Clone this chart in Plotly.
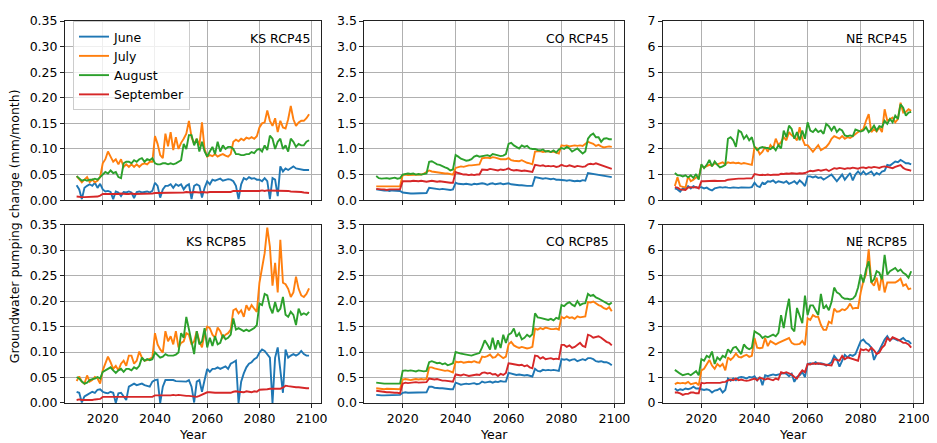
import plotly.graph_objects as go

years = list(range(2010, 2100))
months = ["June", "July", "August", "September"]
colors = ["#1f77b4", "#ff7f0e", "#2ca02c", "#d62728"]
x_ticks = [2020, 2040, 2060, 2080, 2100]

# ---------------- KS RCP45 ----------------
ks45_june = [0.029, 0.021, 0.002, 0.024, 0.028, 0.031, 0.028, 0.034, 0.024, 0.032,
             0.021, 0.017, 0.018, 0.016, 0.002, 0.017, 0.015, 0.008, 0.016, 0.015,
             0.017, 0.015, 0.004, 0.016, 0.017, 0.015, 0.016, 0.017, 0.015, 0.018,
             0.034, 0.028, 0.005, 0.021, 0.028, 0.028, 0.031, 0.024, 0.031, 0.028,
             0.031, 0.021, 0.028, 0.031, 0.002, 0.028, 0.031, 0.028, 0.005, 0.024,
             0.037, 0.031, 0.040, 0.038, 0.040, 0.042, 0.038, 0.040, 0.041, 0.040,
             0.037, 0.028, 0.002, 0.031, 0.043, 0.040, 0.045, 0.042, 0.043, 0.040,
             0.040, 0.037, 0.043, 0.037, 0.002, 0.043, 0.040, 0.008, 0.066, 0.056,
             0.062, 0.059, 0.062, 0.066, 0.062, 0.061, 0.059, 0.059, 0.059, 0.059]
ks45_july = [0.047, 0.040, 0.035, 0.040, 0.045, 0.035, 0.040, 0.035, 0.038, 0.045,
             0.072, 0.080, 0.095, 0.085, 0.075, 0.080, 0.070, 0.080, 0.065, 0.070,
             0.065, 0.070, 0.065, 0.070, 0.065, 0.070, 0.072, 0.070, 0.075, 0.075,
             0.125, 0.110, 0.088, 0.082, 0.130, 0.105, 0.133, 0.098, 0.123, 0.100,
             0.112, 0.120, 0.130, 0.155, 0.123, 0.110, 0.120, 0.107, 0.152, 0.100,
             0.085, 0.088, 0.086, 0.090, 0.085, 0.088, 0.090, 0.087, 0.085, 0.090,
             0.114, 0.118, 0.115, 0.120, 0.117, 0.122, 0.120, 0.123, 0.120, 0.125,
             0.142, 0.150, 0.152, 0.175, 0.155, 0.145, 0.160, 0.133, 0.155, 0.142,
             0.140, 0.158, 0.184, 0.158, 0.145, 0.152, 0.155, 0.155, 0.160, 0.168]
ks45_aug = [0.047, 0.042, 0.038, 0.040, 0.038, 0.040, 0.040, 0.042, 0.040, 0.045,
            0.050, 0.055, 0.052, 0.058, 0.053, 0.055, 0.045, 0.043, 0.072, 0.075,
            0.075, 0.072, 0.078, 0.075, 0.080, 0.082, 0.075, 0.080, 0.078, 0.082,
            0.072, 0.070, 0.070, 0.072, 0.072, 0.070, 0.072, 0.070, 0.072, 0.075,
            0.078, 0.110, 0.100, 0.127, 0.127, 0.107, 0.120, 0.095, 0.114, 0.095,
            0.085, 0.095, 0.104, 0.090, 0.114, 0.095, 0.107, 0.100, 0.104, 0.104,
            0.100, 0.090, 0.090, 0.088, 0.088, 0.090, 0.090, 0.094, 0.092, 0.098,
            0.100, 0.095, 0.107, 0.098, 0.126, 0.120, 0.100, 0.114, 0.120, 0.100,
            0.107, 0.095, 0.120, 0.114, 0.104, 0.110, 0.107, 0.107, 0.114, 0.117]
ks45_sep = [0.007, 0.006, 0.006, 0.006, 0.006, 0.006, 0.007, 0.007, 0.007, 0.009,
            0.012, 0.012, 0.012, 0.012, 0.011, 0.012, 0.012, 0.013, 0.012, 0.012,
            0.012, 0.013, 0.012, 0.012, 0.013, 0.013, 0.012, 0.013, 0.013, 0.013,
            0.014, 0.014, 0.014, 0.015, 0.014, 0.014, 0.015, 0.015, 0.014, 0.015,
            0.015, 0.015, 0.016, 0.015, 0.015, 0.016, 0.015, 0.015, 0.016, 0.015,
            0.015, 0.016, 0.016, 0.016, 0.015, 0.016, 0.016, 0.016, 0.015, 0.016,
            0.018, 0.018, 0.018, 0.017, 0.018, 0.018, 0.018, 0.017, 0.018, 0.018,
            0.018, 0.019, 0.018, 0.019, 0.019, 0.018, 0.019, 0.019, 0.018, 0.018,
            0.018, 0.018, 0.017, 0.017, 0.017, 0.016, 0.016, 0.015, 0.015, 0.014]

# ---------------- KS RCP85 ----------------
ks85_june = [0.022, 0.020, 0.001, 0.013, 0.016, 0.019, 0.022, 0.020, 0.026, 0.027,
             0.022, 0.020, 0.019, 0.022, 0.020, 0.000, 0.019, 0.020, 0.013, 0.006,
             0.032, 0.035, 0.038, 0.035, 0.037, 0.038, 0.035, 0.033, 0.032, 0.042,
             0.045, 0.046, 0.000, 0.032, 0.045, 0.045, 0.045, 0.045, 0.043, 0.043,
             0.043, 0.043, 0.042, 0.045, 0.032, 0.001, 0.042, 0.045, 0.022, 0.045,
             0.067, 0.061, 0.067, 0.067, 0.070, 0.067, 0.070, 0.072, 0.067, 0.077,
             0.080, 0.083, 0.000, 0.042, 0.058, 0.070, 0.077, 0.080, 0.086, 0.089,
             0.099, 0.105, 0.102, 0.096, 0.089, 0.000, 0.089, 0.109, 0.058, 0.020,
             0.105, 0.089, 0.093, 0.096, 0.093, 0.096, 0.102, 0.096, 0.093, 0.093]
ks85_july = [0.043, 0.052, 0.042, 0.038, 0.054, 0.042, 0.045, 0.051, 0.048, 0.038,
             0.064, 0.077, 0.091, 0.080, 0.067, 0.073, 0.064, 0.077, 0.083, 0.073,
             0.093, 0.093, 0.077, 0.083, 0.101, 0.089, 0.083, 0.084, 0.086, 0.089,
             0.137, 0.115, 0.105, 0.099, 0.141, 0.121, 0.131, 0.115, 0.141, 0.109,
             0.118, 0.121, 0.137, 0.134, 0.115, 0.121, 0.141, 0.121, 0.109, 0.137,
             0.150, 0.147, 0.134, 0.128, 0.148, 0.141, 0.128, 0.134, 0.137, 0.144,
             0.182, 0.185, 0.176, 0.182, 0.169, 0.192, 0.182, 0.192, 0.185, 0.179,
             0.236, 0.262, 0.294, 0.344, 0.307, 0.230, 0.275, 0.217, 0.320, 0.236,
             0.233, 0.224, 0.208, 0.217, 0.248, 0.224, 0.211, 0.208, 0.214, 0.225]
ks85_aug = [0.051, 0.048, 0.042, 0.038, 0.040, 0.045, 0.047, 0.048, 0.051, 0.048,
            0.061, 0.064, 0.067, 0.070, 0.064, 0.059, 0.064, 0.067, 0.061, 0.067,
            0.067, 0.064, 0.070, 0.067, 0.073, 0.089, 0.083, 0.086, 0.084, 0.086,
            0.099, 0.093, 0.089, 0.091, 0.096, 0.093, 0.093, 0.093, 0.095, 0.099,
            0.137, 0.128, 0.169, 0.144, 0.115, 0.096, 0.141, 0.115, 0.121, 0.147,
            0.109, 0.128, 0.112, 0.131, 0.115, 0.118, 0.134, 0.125, 0.128, 0.134,
            0.166, 0.144, 0.147, 0.144, 0.141, 0.144, 0.141, 0.144, 0.147, 0.153,
            0.195, 0.192, 0.214, 0.211, 0.188, 0.176, 0.198, 0.179, 0.185, 0.208,
            0.173, 0.169, 0.179, 0.173, 0.153, 0.185, 0.173, 0.176, 0.173, 0.179]
ks85_sep = [0.006, 0.007, 0.006, 0.006, 0.005, 0.006, 0.006, 0.007, 0.007, 0.008,
            0.012, 0.012, 0.012, 0.011, 0.012, 0.012, 0.011, 0.012, 0.012, 0.012,
            0.012, 0.012, 0.011, 0.012, 0.012, 0.011, 0.012, 0.012, 0.012, 0.012,
            0.015, 0.015, 0.015, 0.014, 0.015, 0.015, 0.015, 0.016, 0.015, 0.016,
            0.015, 0.014, 0.014, 0.014, 0.013, 0.013, 0.012, 0.014, 0.016, 0.019,
            0.021, 0.021, 0.020, 0.020, 0.020, 0.020, 0.020, 0.020, 0.021, 0.020,
            0.022, 0.023, 0.022, 0.022, 0.021, 0.023, 0.022, 0.021, 0.023, 0.022,
            0.026, 0.026, 0.027, 0.027, 0.028, 0.028, 0.029, 0.029, 0.028, 0.030,
            0.034, 0.033, 0.032, 0.032, 0.031, 0.031, 0.030, 0.030, 0.029, 0.029]

# ---------------- CO RCP45 ----------------
co45_june = [0.21, 0.20, 0.19, 0.19, 0.19, 0.18, 0.19, 0.19, 0.18, 0.18,
             0.15, 0.14, 0.13, 0.13, 0.13, 0.13, 0.13, 0.13, 0.14, 0.14,
             0.24, 0.23, 0.22, 0.22, 0.21, 0.22, 0.21, 0.21, 0.20, 0.21,
             0.34, 0.32, 0.31, 0.31, 0.32, 0.31, 0.30, 0.32, 0.31, 0.32,
             0.33, 0.32, 0.30, 0.32, 0.33, 0.31, 0.32, 0.33, 0.31, 0.32,
             0.33, 0.31, 0.30, 0.30, 0.29, 0.29, 0.28, 0.28, 0.28, 0.28,
             0.45, 0.44, 0.43, 0.42, 0.43, 0.42, 0.41, 0.42, 0.40, 0.40,
             0.40, 0.39, 0.38, 0.39, 0.38, 0.37, 0.38, 0.37, 0.39, 0.38,
             0.53, 0.52, 0.51, 0.50, 0.49, 0.48, 0.47, 0.47, 0.46, 0.45]
co45_july = [0.27, 0.27, 0.27, 0.28, 0.27, 0.27, 0.27, 0.28, 0.27, 0.27,
             0.49, 0.50, 0.49, 0.49, 0.50, 0.49, 0.49, 0.50, 0.52, 0.55,
             0.58, 0.56, 0.55, 0.54, 0.53, 0.53, 0.52, 0.52, 0.51, 0.50,
             0.63, 0.65, 0.66, 0.65, 0.67, 0.68, 0.68, 0.69, 0.70, 0.70,
             0.82, 0.83, 0.83, 0.82, 0.84, 0.83, 0.81, 0.80, 0.80, 0.80,
             0.82, 0.78, 0.77, 0.77, 0.76, 0.78, 0.75, 0.73, 0.72, 0.70,
             0.95, 0.95, 0.96, 0.94, 0.95, 0.96, 0.94, 0.95, 0.93, 0.91,
             1.07, 1.06, 1.07, 1.05, 1.06, 1.07, 1.06, 1.07, 1.06, 1.10,
             1.14, 1.12, 1.10, 1.06, 1.08, 1.05, 1.03, 1.04, 1.05, 1.04]
co45_aug = [0.47, 0.43, 0.42, 0.43, 0.43, 0.42, 0.43, 0.44, 0.42, 0.43,
            0.50, 0.51, 0.52, 0.51, 0.52, 0.50, 0.51, 0.50, 0.51, 0.52,
            0.75, 0.76, 0.73, 0.70, 0.69, 0.66, 0.64, 0.62, 0.58, 0.60,
            0.88, 0.85, 0.81, 0.79, 0.77, 0.78, 0.80, 0.85, 0.87, 0.85,
            0.86, 0.87, 0.88, 0.86, 0.90, 0.89, 0.88, 0.86, 0.87, 0.90,
            1.10, 1.12, 1.07, 1.04, 1.01, 1.07, 1.04, 1.06, 1.01, 1.00,
            1.00, 0.98, 0.97, 0.99, 0.95, 0.96, 0.94, 0.97, 0.93, 0.99,
            1.02, 1.00, 1.04, 1.01, 0.95, 0.98, 1.01, 0.96, 0.91, 0.95,
            1.20, 1.27, 1.30, 1.23, 1.23, 1.14, 1.20, 1.21, 1.19, 1.19]
co45_sep = [0.22, 0.21, 0.21, 0.21, 0.20, 0.21, 0.21, 0.20, 0.21, 0.21,
            0.37, 0.37, 0.36, 0.37, 0.38, 0.37, 0.37, 0.38, 0.37, 0.36,
            0.37, 0.38, 0.37, 0.36, 0.37, 0.36, 0.35, 0.35, 0.34, 0.34,
            0.55, 0.53, 0.51, 0.50, 0.50, 0.49, 0.50, 0.49, 0.50, 0.50,
            0.60, 0.60, 0.59, 0.61, 0.60, 0.59, 0.58, 0.60, 0.59, 0.60,
            0.62, 0.59, 0.58, 0.59, 0.58, 0.57, 0.58, 0.57, 0.56, 0.55,
            0.69, 0.68, 0.67, 0.68, 0.66, 0.67, 0.66, 0.67, 0.65, 0.66,
            0.69, 0.67, 0.66, 0.68, 0.66, 0.65, 0.67, 0.66, 0.65, 0.66,
            0.70, 0.71, 0.70, 0.72, 0.70, 0.68, 0.66, 0.64, 0.62, 0.61]

# ---------------- CO RCP85 ----------------
co85_june = [0.16, 0.15, 0.15, 0.15, 0.15, 0.15, 0.15, 0.15, 0.16, 0.16,
             0.20, 0.21, 0.20, 0.20, 0.21, 0.20, 0.20, 0.21, 0.21, 0.21,
             0.32, 0.32, 0.30, 0.29, 0.29, 0.29, 0.28, 0.28, 0.27, 0.27,
             0.40, 0.38, 0.36, 0.37, 0.38, 0.37, 0.38, 0.39, 0.37, 0.38,
             0.42, 0.40, 0.41, 0.42, 0.40, 0.42, 0.41, 0.43, 0.42, 0.42,
             0.59, 0.58, 0.56, 0.55, 0.56, 0.55, 0.54, 0.55, 0.53, 0.52,
             0.67, 0.63, 0.62, 0.65, 0.64, 0.65, 0.64, 0.65, 0.64, 0.63,
             0.86, 0.85, 0.86, 0.83, 0.85, 0.86, 0.82, 0.84, 0.86, 0.84,
             0.88, 0.88, 0.86, 0.82, 0.81, 0.82, 0.80, 0.80, 0.78, 0.74]
co85_july = [0.29, 0.28, 0.28, 0.27, 0.28, 0.28, 0.27, 0.27, 0.27, 0.27,
             0.46, 0.47, 0.46, 0.45, 0.46, 0.47, 0.46, 0.47, 0.46, 0.47,
             0.70, 0.70, 0.68, 0.67, 0.66, 0.65, 0.63, 0.64, 0.62, 0.60,
             0.81, 0.80, 0.81, 0.79, 0.80, 0.81, 0.80, 0.82, 0.80, 0.79,
             0.91, 0.90, 0.92, 0.95, 0.89, 0.90, 0.96, 0.92, 0.88, 0.91,
             1.15, 1.20, 1.13, 1.10, 1.08, 1.10, 1.08, 1.07, 1.08, 1.10,
             1.46, 1.44, 1.47, 1.45, 1.48, 1.46, 1.45, 1.45, 1.46, 1.44,
             1.69, 1.66, 1.70, 1.67, 1.68, 1.65, 1.70, 1.68, 1.69, 1.70,
             1.98, 1.97, 1.99, 1.95, 1.92, 1.90, 1.86, 1.84, 1.88, 1.80]
co85_aug = [0.40, 0.39, 0.39, 0.38, 0.38, 0.38, 0.38, 0.38, 0.37, 0.38,
            0.63, 0.64, 0.63, 0.64, 0.63, 0.62, 0.64, 0.63, 0.62, 0.63,
            0.80, 0.82, 0.80, 0.78, 0.79, 0.76, 0.78, 0.74, 0.76, 0.78,
            1.00, 0.98, 0.97, 0.96, 0.95, 0.94, 0.93, 0.95, 0.97, 0.98,
            1.09, 1.23, 1.15, 1.05, 1.28, 1.05, 1.23, 1.08, 1.34, 1.18,
            1.34, 1.37, 1.46, 1.30, 1.37, 1.25, 1.28, 1.34, 1.30, 1.35,
            1.76, 1.68, 1.67, 1.66, 1.64, 1.63, 1.65, 1.62, 1.67, 1.65,
            1.92, 1.90, 1.95, 1.98, 1.93, 1.90, 2.00, 1.92, 1.95, 1.96,
            2.14, 2.10, 2.12, 2.07, 2.05, 2.02, 1.98, 1.95, 1.93, 1.97]
co85_sep = [0.24, 0.23, 0.22, 0.22, 0.21, 0.21, 0.20, 0.20, 0.20, 0.19,
            0.38, 0.40, 0.39, 0.40, 0.40, 0.41, 0.40, 0.40, 0.41, 0.41,
            0.48, 0.47, 0.46, 0.47, 0.45, 0.44, 0.44, 0.43, 0.42, 0.42,
            0.56, 0.55, 0.54, 0.56, 0.55, 0.53, 0.54, 0.55, 0.56, 0.55,
            0.59, 0.60, 0.58, 0.59, 0.56, 0.57, 0.53, 0.57, 0.55, 0.59,
            0.78, 0.77, 0.76, 0.76, 0.74, 0.75, 0.72, 0.74, 0.70, 0.68,
            0.93, 0.92, 0.87, 0.90, 0.86, 0.87, 0.88, 0.86, 0.87, 0.86,
            1.14, 1.14, 1.10, 1.13, 1.08, 1.10, 1.14, 1.18, 1.12, 1.10,
            1.34, 1.32, 1.28, 1.30, 1.31, 1.28, 1.24, 1.20, 1.18, 1.13]

# ---------------- NE RCP45 ----------------
ne45_june = [0.46, 0.42, 0.33, 0.46, 0.42, 0.55, 0.46, 0.55, 0.49, 0.51,
             0.51, 0.46, 0.49, 0.42, 0.38, 0.46, 0.49, 0.51, 0.49, 0.51,
             0.49, 0.48, 0.50, 0.49, 0.48, 0.50, 0.49, 0.50, 0.49, 0.51,
             0.68, 0.55, 0.51, 0.68, 0.64, 0.74, 0.72, 0.77, 0.68, 0.74,
             0.72, 0.68, 0.74, 0.64, 0.68, 0.74, 0.64, 0.77, 0.68, 0.55,
             0.93, 0.93, 0.89, 0.93, 0.87, 0.89, 0.80, 0.87, 0.93, 1.00,
             0.87, 0.74, 0.87, 1.00, 0.80, 0.93, 1.06, 0.77, 1.00, 1.12,
             1.00, 1.12, 1.00, 1.06, 1.12, 0.97, 1.06, 1.00, 1.12, 1.15,
             1.38, 1.35, 1.44, 1.51, 1.48, 1.57, 1.51, 1.44, 1.44, 1.40]
ne45_july = [0.55, 0.89, 0.55, 0.51, 0.49, 0.93, 0.74, 0.80, 0.89, 0.87,
             1.35, 1.28, 1.32, 1.38, 1.35, 1.44, 1.40, 1.44, 1.48, 1.40,
             1.48, 1.45, 1.47, 1.44, 1.46, 1.42, 1.45, 1.43, 1.40, 1.38,
             2.08, 2.02, 1.79, 1.89, 2.08, 1.89, 2.15, 2.02, 2.40, 2.15,
             2.27, 2.46, 2.34, 2.66, 2.53, 2.46, 2.34, 2.85, 2.40, 2.15,
             2.15, 2.02, 1.89, 2.02, 2.15, 1.95, 2.02, 2.08, 2.21, 2.40,
             2.50, 2.46, 2.40, 2.50, 2.40, 2.46, 2.43, 2.50, 2.59, 2.66,
             2.72, 2.78, 3.10, 3.36, 2.66, 2.78, 2.68, 2.85, 2.66, 3.55,
             3.10, 3.17, 3.23, 3.04, 3.17, 3.81, 3.42, 3.45, 3.55, 3.49]
ne45_aug = [1.06, 0.97, 0.97, 0.93, 0.97, 0.89, 0.97, 0.87, 1.02, 0.80,
            1.40, 1.25, 1.38, 1.57, 1.32, 1.51, 1.38, 1.28, 1.32, 1.38,
            2.40, 2.46, 2.34, 2.08, 2.72, 2.66, 2.40, 2.53, 2.34, 2.46,
            2.08, 1.95, 2.04, 2.08, 2.04, 2.04, 1.99, 2.08, 1.95, 2.15,
            2.02, 2.72, 2.46, 2.91, 2.78, 2.40, 2.66, 2.34, 2.72, 2.40,
            3.04, 2.72, 2.66, 2.78, 2.66, 2.72, 2.59, 2.98, 2.89, 2.72,
            2.89, 2.66, 2.78, 2.72, 2.53, 2.50, 2.53, 2.50, 2.76, 2.72,
            2.68, 2.72, 2.85, 2.66, 2.76, 2.91, 2.72, 2.89, 2.85, 3.10,
            2.98, 3.17, 3.04, 3.30, 3.17, 3.74, 3.61, 3.30, 3.42, 3.45]
ne45_sep = [0.51, 0.49, 0.42, 0.42, 0.40, 0.49, 0.51, 0.49, 0.51, 0.46,
            0.74, 0.74, 0.75, 0.74, 0.75, 0.76, 0.75, 0.76, 0.77, 0.76,
            0.80, 0.82, 0.82, 0.83, 0.84, 0.83, 0.84, 0.85, 0.85, 0.85,
            1.02, 0.99, 0.98, 0.99, 0.98, 1.00, 0.98, 0.99, 1.00, 0.99,
            1.03, 1.02, 1.04, 1.03, 1.05, 1.04, 1.03, 1.05, 1.04, 1.06,
            1.12, 1.15, 1.13, 1.16, 1.18, 1.15, 1.17, 1.20, 1.14, 1.18,
            1.25, 1.23, 1.26, 1.24, 1.22, 1.25, 1.24, 1.27, 1.25, 1.23,
            1.27, 1.28, 1.25, 1.29, 1.27, 1.30, 1.28, 1.26, 1.30, 1.32,
            1.30, 1.28, 1.25, 1.30, 1.32, 1.37, 1.26, 1.20, 1.18, 1.15]

# ---------------- NE RCP85 ----------------
ne85_june = [0.57, 0.49, 0.54, 0.51, 0.57, 0.54, 0.57, 0.64, 0.57, 0.57,
             0.54, 0.51, 0.54, 0.51, 0.41, 0.49, 0.51, 0.57, 0.41, 0.51,
             0.96, 0.87, 0.96, 0.89, 1.00, 1.02, 1.00, 0.96, 1.02, 1.00,
             1.05, 0.89, 1.02, 0.70, 1.09, 1.05, 1.09, 1.12, 1.09, 1.12,
             1.15, 1.17, 1.15, 1.05, 1.15, 0.83, 1.02, 1.09, 1.21, 1.02,
             1.53, 1.56, 1.53, 1.60, 1.53, 1.56, 1.53, 1.47, 1.53, 1.60,
             1.85, 1.72, 1.43, 1.69, 1.89, 1.79, 1.89, 1.85, 1.92, 2.17,
             2.43, 2.49, 2.36, 2.30, 2.17, 1.69, 1.92, 2.07, 2.30, 2.49,
             2.62, 2.45, 2.55, 2.49, 2.45, 2.49, 2.55, 2.45, 2.43, 2.32]
ne85_july = [0.74, 0.79, 0.77, 0.79, 0.77, 0.83, 0.74, 0.77, 0.79, 0.70,
             1.28, 1.34, 1.53, 1.69, 1.47, 1.34, 1.53, 1.43, 1.53, 1.28,
             1.79, 1.69, 1.79, 1.94, 1.81, 1.79, 1.85, 1.89, 1.81, 1.85,
             2.55, 2.17, 2.15, 2.17, 2.55, 2.23, 2.43, 2.36, 2.30, 2.36,
             2.40, 2.45, 2.49, 2.55, 2.36, 2.30, 2.30, 2.32, 2.43, 2.27,
             3.32, 3.26, 3.45, 3.38, 3.38, 3.07, 2.87, 2.87, 3.19, 3.13,
             3.70, 3.58, 3.60, 3.68, 3.64, 3.73, 3.90, 3.70, 3.73, 3.73,
             4.34, 4.79, 5.04, 6.03, 4.73, 4.60, 4.92, 4.41, 5.04, 4.34,
             4.73, 4.73, 4.75, 4.73, 4.79, 4.88, 4.60, 4.66, 4.47, 4.50]
ne85_aug = [1.30, 1.21, 1.15, 1.09, 1.12, 1.15, 1.09, 1.17, 1.25, 1.09,
            1.72, 1.66, 1.85, 1.79, 2.02, 1.53, 1.79, 1.69, 1.85, 1.79,
            2.11, 1.98, 2.17, 2.20, 2.04, 1.92, 2.30, 2.17, 2.11, 2.17,
            2.81, 2.75, 2.68, 2.55, 2.62, 2.58, 2.62, 2.68, 2.62, 2.75,
            3.45, 2.94, 3.58, 4.09, 2.94, 2.81, 3.73, 3.45, 3.13, 4.21,
            3.45, 3.83, 3.83, 3.64, 3.45, 4.28, 3.70, 3.83, 3.64, 3.96,
            4.53, 4.34, 4.28, 4.15, 4.09, 4.09, 4.06, 4.09, 4.21, 4.53,
            5.04, 4.73, 5.24, 5.56, 4.73, 4.85, 5.17, 5.11, 4.85, 5.81,
            5.04, 5.17, 5.24, 5.30, 5.17, 5.24, 5.11, 5.04, 4.92, 5.17]
ne85_sep = [0.41, 0.41, 0.38, 0.32, 0.36, 0.36, 0.41, 0.41, 0.38, 0.38,
            0.79, 0.77, 0.79, 0.79, 0.80, 0.79, 0.79, 0.79, 0.82, 0.83,
            0.89, 0.92, 0.89, 0.96, 0.89, 0.92, 0.89, 0.87, 0.89, 0.92,
            0.96, 0.89, 1.00, 0.96, 0.92, 0.96, 0.92, 0.89, 0.96, 0.92,
            1.21, 1.17, 1.21, 1.15, 1.12, 1.02, 0.96, 1.15, 1.28, 1.21,
            1.53, 1.51, 1.56, 1.53, 1.56, 1.53, 1.51, 1.49, 1.47, 1.47,
            1.72, 1.69, 1.66, 1.85, 1.72, 1.79, 1.76, 1.72, 1.69, 1.66,
            2.11, 2.07, 2.11, 2.04, 2.17, 2.07, 1.92, 1.98, 2.17, 2.27,
            2.55, 2.45, 2.58, 2.55, 2.49, 2.43, 2.36, 2.36, 2.30, 2.17]

panel_titles = ["KS RCP45", "CO RCP45", "NE RCP45", "KS RCP85", "CO RCP85", "NE RCP85"]
panel_series = [
    [ks45_june, ks45_july, ks45_aug, ks45_sep],
    [co45_june, co45_july, co45_aug, co45_sep],
    [ne45_june, ne45_july, ne45_aug, ne45_sep],
    [ks85_june, ks85_july, ks85_aug, ks85_sep],
    [co85_june, co85_july, co85_aug, co85_sep],
    [ne85_june, ne85_july, ne85_aug, ne85_sep],
]
y_ticks_ks = [0.0, 0.05, 0.10, 0.15, 0.20, 0.25, 0.30, 0.35]
y_ticks_co = [0.0, 0.5, 1.0, 1.5, 2.0, 2.5, 3.0, 3.5]
y_ticks_ne = [0, 1, 2, 3, 4, 5, 6, 7]
y_tick_sets = [y_ticks_ks, y_ticks_co, y_ticks_ne, y_ticks_ks, y_ticks_co, y_ticks_ne]
y_formats = [".2f", ".1f", "d", ".2f", ".1f", "d"]

# ---------------- layout geometry ----------------
# The page body adds an 8px offset, so the figure is made 8px smaller.
W, H = 929, 435
ML, MR, MT, MB = 57, 14, 5, 40
x_domains = [[0.0, 0.298], [0.349, 0.651], [0.697, 1.0]]
y_domains = [[0.531, 1.0], [0.0, 0.467]]
label_pos = [  # (x in axis domain, y in axis domain, anchor)
    (0.965, 0.90, "right"), (0.95, 0.90, "right"), (0.946, 0.90, "right"),
    (0.59, 0.907, "center"), (0.95, 0.907, "right"), (0.946, 0.907, "right"),
]

FONT = "DejaVu Sans"
FS = 12.5

fig = go.Figure()
layout = {}
for p in range(6):
    row, col = divmod(p, 3)
    ax = "" if p == 0 else str(p + 1)
    for m in range(4):
        fig.add_trace(go.Scatter(
            x=years, y=panel_series[p][m], mode="lines",
            name=months[m], legendgroup=months[m], showlegend=(p == 0),
            line=dict(color=colors[m], width=1.9),
            xaxis="x" + ax, yaxis="y" + ax,
        ))
    yt = y_tick_sets[p]
    layout["xaxis" + ax] = dict(
        domain=x_domains[col], anchor="y" + ax, range=[2005.55, 2103.45],
        tickvals=x_ticks, showticklabels=(row == 1),
        showgrid=True, gridcolor="#b0b0b0", gridwidth=1,
        showline=True, linecolor="#222", linewidth=1, mirror=True,
        ticks="outside", ticklen=4, tickcolor="#222", zeroline=False,
        tickfont=dict(family=FONT, size=FS, color="black"),
    )
    layout["yaxis" + ax] = dict(
        domain=y_domains[row], anchor="x" + ax, range=[yt[0], yt[-1]],
        tickvals=yt, tickformat=y_formats[p],
        showgrid=True, gridcolor="#b0b0b0", gridwidth=1,
        showline=True, linecolor="#222", linewidth=1, mirror=True,
        ticks="outside", ticklen=4, tickcolor="#222", zeroline=False,
        tickfont=dict(family=FONT, size=FS, color="black"),
    )

annotations = []
for p in range(6):
    ax = "" if p == 0 else str(p + 1)
    lx, ly, anc = label_pos[p]
    annotations.append(dict(
        text=panel_titles[p], xref="x" + ax + " domain", yref="y" + ax + " domain",
        x=lx, y=ly, xanchor=anc, yanchor="middle", showarrow=False,
        font=dict(family=FONT, size=FS, color="black"),
    ))
for col in range(3):
    annotations.append(dict(
        text="Year", xref="paper", yref="paper",
        x=(x_domains[col][0] + x_domains[col][1]) / 2, y=-0.082,
        xanchor="center", yanchor="middle", showarrow=False,
        font=dict(family=FONT, size=FS, color="black"),
    ))
annotations.append(dict(
    text="Groundwater pumping change (mm/month)", xref="paper", yref="paper",
    x=-0.059, y=0.464, xanchor="center", yanchor="middle", textangle=-90,
    showarrow=False, font=dict(family=FONT, size=FS, color="black"),
))

fig.update_layout(
    width=W, height=H,
    margin=dict(l=ML, r=MR, t=MT, b=MB),
    paper_bgcolor="white", plot_bgcolor="white",
    font=dict(family=FONT, size=FS, color="black"),
    showlegend=True,
    legend=dict(
        x=0.0093, y=1.0, xanchor="left", yanchor="top",
        bgcolor="rgba(255,255,255,0.8)", bordercolor="#cccccc", borderwidth=1,
        font=dict(family=FONT, size=FS, color="black"),
        itemwidth=30, tracegroupgap=0,
    ),
    annotations=annotations,
    **layout,
)

fig.write_html("out.html")
